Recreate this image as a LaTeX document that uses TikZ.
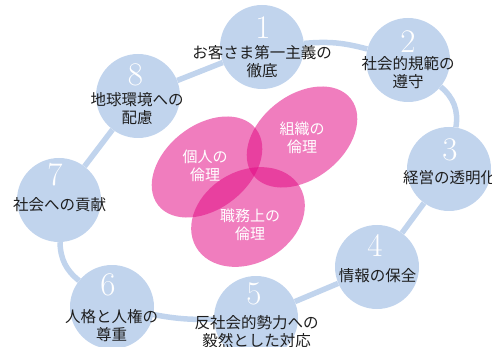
\documentclass[tikz,border=0pt]{standalone}
\usepackage{fontspec}
\newfontfamily\jp{Noto Sans CJK JP}
\usetikzlibrary{shapes.geometric}
\definecolor{ringblue}{RGB}{193,212,237}
\definecolor{inkpink}{RGB}{226,10,132}
\definecolor{textdark}{RGB}{30,30,30}
\pgfdeclarelayer{bg}
\pgfsetlayers{bg,main}
\begin{document}
\begin{tikzpicture}[x=1pt,y=-1pt,
  circ/.style={circle,fill=ringblue,minimum size=84pt,inner sep=0pt},
  ring/.style={draw=ringblue,line width=5.5pt},
  digit/.style={text=white,font=\fontsize{33}{33}\selectfont,inner sep=0pt},
  lbl/.style={text=textdark,font=\jp\fontsize{15.5}{18}\selectfont,align=center,inner sep=0pt},
  petal/.style={ellipse,fill=inkpink,fill opacity=0.53,inner sep=0pt},
  plbl/.style={text=white,font=\jp\fontsize{15}{18}\selectfont,align=center,inner sep=0pt}]
\useasboundingbox (0,0) rectangle (492,347);
% circles
\node[circ] (c1) at (262,47) {};
\node[circ] (c2) at (408,60) {};
\node[circ] (c3) at (449,169) {};
\node[circ] (c4) at (377,267) {};
\node[circ] (c5) at (256,318) {};
\node[circ] (c6) at (112,307) {};
\node[circ] (c7) at (59,200) {};
\node[circ] (c8) at (138,96) {};
% connectors
\begin{pgfonlayer}{bg}
\draw[ring] (c1) to[bend left=10] (c2);
\draw[ring] (c2) to[bend left=30] (c3);
\draw[ring] (c3) to (c4);
\draw[ring] (c4) to (c5);
\draw[ring] (c5) to[bend left=6] (c6);
\draw[ring] (c6) to[bend left=25] (c7);
\draw[ring] (c7) to (c8);
\draw[ring] (c8) to (c1);
\end{pgfonlayer}
% digits
\node[digit] (d1) at (263,27.5) {1};
\node[digit] (d2) at (408,42) {2};
\node[digit] (d3) at (450,150) {3};
\node[digit] (d4) at (375,245) {4};
\node[digit] (d5) at (254,294) {5};
\node[digit] (d6) at (108,285) {6};
\node[digit] (d7) at (55,175) {7};
\node[digit] (d8) at (135.5,75) {8};
% labels
\node[lbl] (t1) at (262,61.5) {お客さま第一主義の\\徹底};
\node[lbl] (t2) at (408,73) {社会的規範の\\遵守};
\node[lbl,anchor=west] (t3) at (403,178) {経営の透明化};
\node[lbl] (t4) at (377.5,275.5) {情報の保全};
\node[lbl] (t5) at (256.5,331.5) {反社会的勢力への\\毅然とした対応};
\node[lbl] (t6) at (111.5,326) {人格と人権の\\尊重};
\node[lbl] (t7) at (59.5,205) {社会への貢献};
\node[lbl] (t8) at (137,109) {地球環境への\\配慮};
% petals
\node[petal,minimum width=124pt,minimum height=84pt,rotate=38] (e1) at (207,167) {};
\node[petal,minimum width=124pt,minimum height=84pt,rotate=38] (e2) at (302,137) {};
\node[petal,minimum width=120pt,minimum height=92pt,rotate=30] (e3) at (248,217) {};
\node[plbl] (p1) at (205,166) {個人の\\倫理};
\node[plbl] (p2) at (302,138) {組織の\\倫理};
\node[plbl] (p3) at (250,225) {職務上の\\倫理};
\end{tikzpicture}
\end{document}
